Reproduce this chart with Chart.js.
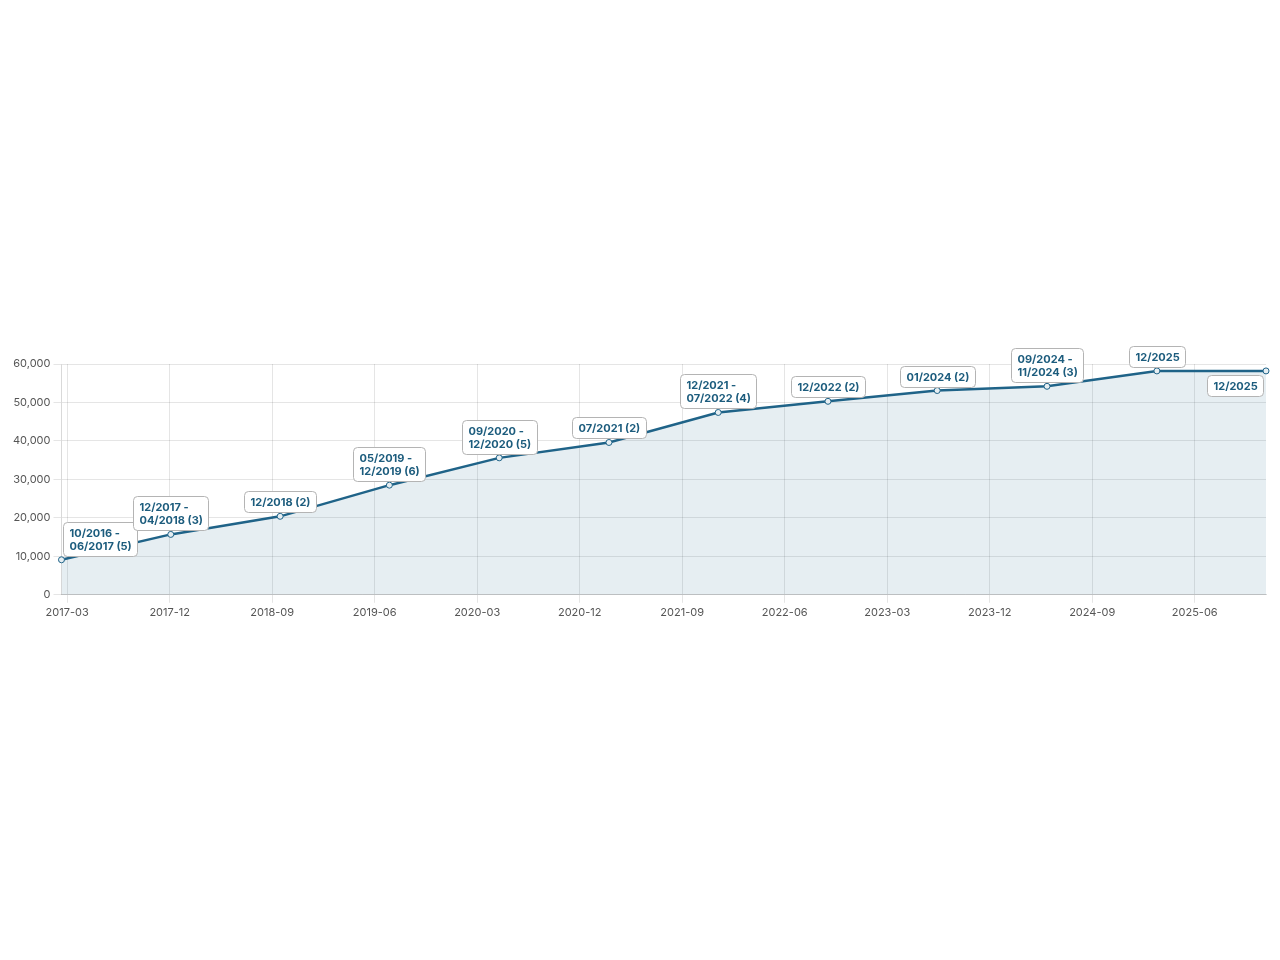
<!DOCTYPE html>
<html>
<head>
<meta charset="utf-8">
<script src="https://cdn.jsdelivr.net/npm/chart.js@4.4.1/dist/chart.umd.min.js"></script>
<style>
  html, body { margin: 0; padding: 0; background: #ffffff; }
  #wrap { position: absolute; left: 0; top: 334px; width: 1280px; height: 292px; }
</style>
</head>
<body>
<div id="wrap"><canvas id="c"></canvas></div>
<script>
// ---- data ----
const pointDates = ["2017-02-15","2017-12-04","2018-09-22","2019-07-10","2020-04-29","2021-02-17",
                    "2021-12-06","2022-09-25","2023-07-13","2024-05-02","2025-02-20","2025-12-09"];
const totals = [9100, 15700, 20400, 28500, 35600, 39600, 47400, 50300, 53100, 54200, 58200, 58200];
const periodLabels = ["10/2016 -\n06/2017 (5)", "12/2017 -\n04/2018 (3)", "12/2018 (2)", "05/2019 -\n12/2019 (6)",
                      "09/2020 -\n12/2020 (5)", "07/2021 (2)", "12/2021 -\n07/2022 (4)", "12/2022 (2)",
                      "01/2024 (2)", "09/2024 -\n11/2024 (3)", "12/2025", "12/2025"];
const firstTick = "2017-03";
const tickStepMonths = 9;
const yTicks = [0, 10000, 20000, 30000, 40000, 50000, 60000];

// ---- helpers ----
function toMonths(s) {
  const p = s.split("-").map(Number);
  const y = p[0], m = p[1], d = p[2] || 1;
  const dim = new Date(y, m, 0).getDate();
  return y * 12 + (m - 1) + (d - 1) / dim;
}
function fmtMonth(v) {
  const r = Math.round(v);
  const y = Math.floor(r / 12), m = r % 12 + 1;
  return y + "-" + String(m).padStart(2, "0");
}
const xs = pointDates.map(toMonths);
const points = xs.map((x, i) => ({ x: x, y: totals[i] }));

const lineColor = "#1f6388";
const textColor = "#1c5c7d";
const FONT = "Inter, 'Liberation Sans', sans-serif";

const labelPlugin = {
  id: "periodLabels",
  afterDatasetsDraw(chart) {
    const ctx = chart.ctx;
    const meta = chart.getDatasetMeta(0);
    const n = meta.data.length;
    ctx.save();
    ctx.font = "bold 11px " + FONT;
    const lineH = 13, padX = 6, padY = 4;
    meta.data.forEach((pt, i) => {
      const lines = periodLabels[i].split("\n");
      let w = 0;
      lines.forEach(l => { w = Math.max(w, ctx.measureText(l).width); });
      const bw = Math.round(w + padX * 2);
      const bh = lines.length * lineH + padY * 2;
      let left, top;
      if (i === 0) {
        left = pt.x + 2; top = pt.y - 4 - bh;
      } else if (i === n - 1) {
        left = pt.x - 3 - bw; top = pt.y + 4;
      } else {
        left = pt.x - bw / 2; top = pt.y - 4 - bh;
      }
      left = Math.round(left) + 0.5; top = Math.round(top) + 0.5;
      ctx.beginPath();
      ctx.roundRect(left, top, bw, bh, 4);
      ctx.fillStyle = "#ffffff";
      ctx.fill();
      ctx.lineWidth = 1;
      ctx.strokeStyle = "#b4b4b4";
      ctx.stroke();
      ctx.fillStyle = textColor;
      ctx.textBaseline = "middle";
      ctx.textAlign = "left";
      lines.forEach((l, k) => {
        ctx.fillText(l, left + padX, top + padY + lineH * k + lineH / 2 + 0.5);
      });
    });
    ctx.restore();
  }
};

const startTick = toMonths(firstTick + "-01");

new Chart(document.getElementById("c"), {
  type: "line",
  data: {
    datasets: [{
      data: points,
      borderColor: lineColor,
      borderWidth: 2.5,
      backgroundColor: "rgba(31,99,136,0.11)",
      fill: "origin",
      tension: 0,
      pointRadius: 3,
      pointBorderWidth: 1,
      pointBackgroundColor: "rgba(230,238,242,1)",
      pointBorderColor: lineColor,
      clip: false
    }]
  },
  options: {
    responsive: true,
    maintainAspectRatio: false,
    animation: false,
    layout: { padding: { top: 30, left: 10, right: 14, bottom: 4 } },
    plugins: { legend: { display: false }, tooltip: { enabled: false } },
    scales: {
      x: {
        type: "linear",
        min: xs[0],
        max: xs[xs.length - 1],
        afterBuildTicks(scale) {
          const t = [];
          for (let v = startTick; v <= scale.max; v += tickStepMonths) {
            if (v >= scale.min) t.push({ value: v });
          }
          scale.ticks = t;
        },
        ticks: {
          callback: v => fmtMonth(v),
          color: "#555",
          font: { family: FONT, size: 11 },
          maxRotation: 0,
          autoSkip: false
        },
        grid: { color: "rgba(0,0,0,0.1)" },
        border: { color: "rgba(0,0,0,0.15)" }
      },
      y: {
        min: 0,
        max: 60000,
        afterBuildTicks(scale) { scale.ticks = yTicks.map(v => ({ value: v })); },
        ticks: {
          callback: v => v.toLocaleString("en-US"),
          color: "#555",
          font: { family: FONT, size: 11 }
        },
        grid: { color: "rgba(0,0,0,0.1)" },
        border: { color: "rgba(0,0,0,0.15)" }
      }
    }
  },
  plugins: [labelPlugin]
});
</script>
</body>
</html>
